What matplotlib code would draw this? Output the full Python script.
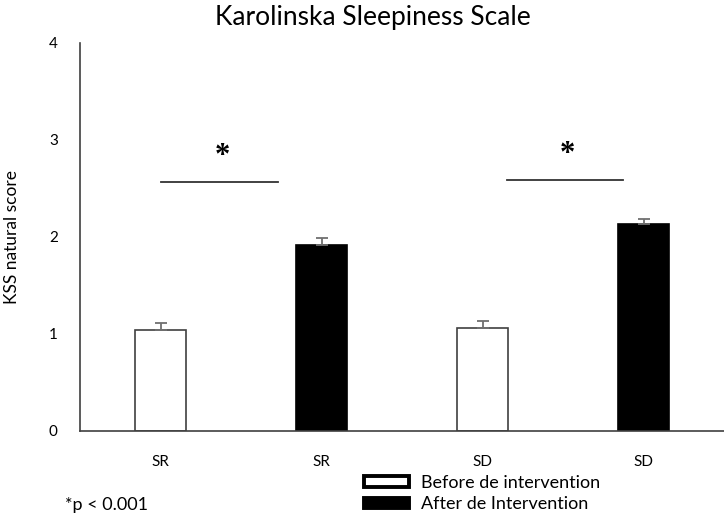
import matplotlib.pyplot as plt
from matplotlib.patches import Patch

plt.rcParams['font.family'] = ['Lato', 'DejaVu Sans']

groups = ['SR', 'SR', 'SD', 'SD']
scores = [1.04, 1.92, 1.06, 2.13]
errors = [0.07, 0.07, 0.07, 0.06]
fills = ['white', 'black', 'white', 'black']
legend_labels = ['Before de intervention', 'After de Intervention']

# significance brackets: (x start, x end, height)
brackets = [(0.0, 0.73, 2.57), (2.15, 2.87, 2.59)]

fig = plt.figure(figsize=(7.24, 5.18), dpi=100)
ax = fig.add_axes([0.1105, 0.168, 0.8895, 0.749])

x = range(len(scores))
ax.bar(x, scores, width=0.32, color=fills, edgecolor=['#404040', 'black', '#404040', 'black'],
       linewidth=1.2, zorder=2)
ax.errorbar(x, scores, yerr=[[0] * len(errors), errors], fmt='none', ecolor='#707070',
            elinewidth=1.3, capsize=4, capthick=1.3, zorder=3)

for x0, x1, h in brackets:
    ax.plot([x0, x1], [h, h], color='#333333', lw=1.3, clip_on=False)
    ax.text((x0 + x1) / 2 + 0.02, h + 0.26, '*', ha='center', va='center', fontsize=22,
            fontweight='bold', family='Liberation Serif')

ax.set_xlim(-0.5, 3.5)
ax.set_ylim(0, 4)
ax.set_yticks([0, 1, 2, 3, 4])
ax.set_xticks(list(x))
ax.set_xticklabels(groups)
ax.tick_params(axis='both', length=0, labelsize=11)
ax.tick_params(axis='y', pad=16)
ax.tick_params(axis='x', pad=17)
ax.spines['top'].set_visible(False)
ax.spines['right'].set_visible(False)
for s in ('left', 'bottom'):
    ax.spines[s].set_color('#404040')
    ax.spines[s].set_linewidth(1.2)
ax.set_ylabel('KSS natural score', fontsize=12.5, labelpad=21)

fig.suptitle('Karolinska Sleepiness Scale', fontsize=19, x=0.515, y=0.99)

handles = [Patch(facecolor='white', edgecolor='black', linewidth=2.8),
           Patch(facecolor='black', edgecolor='black', linewidth=2.8)]
fig.legend(handles, legend_labels, loc='upper left', bbox_to_anchor=(0.503, 0.083),
           frameon=False, fontsize=13, handlelength=2.5, handleheight=0.5,
           handletextpad=0.65, labelspacing=0.3, borderpad=0, borderaxespad=0)

fig.text(0.09, 0.025, '*p < 0.001', fontsize=13, ha='left', va='center')

fig.savefig('out.png', dpi=100)
